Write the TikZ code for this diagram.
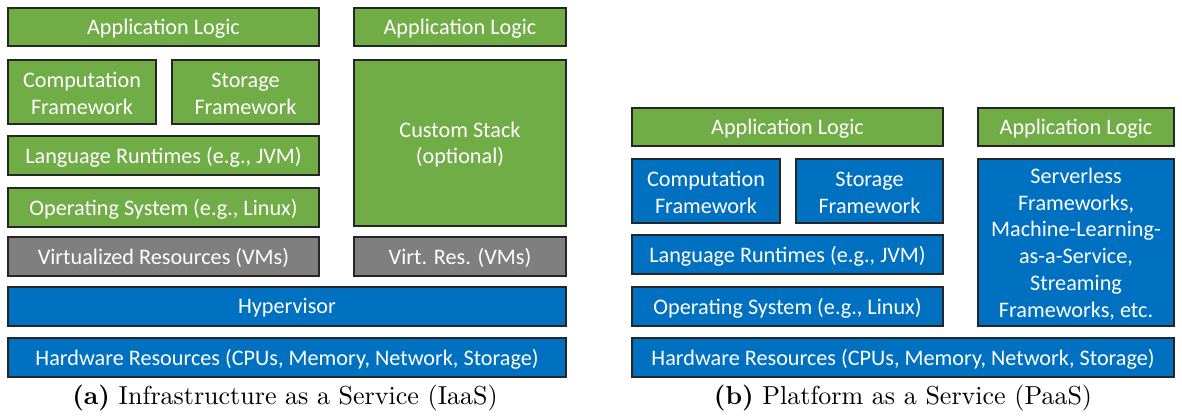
\documentclass[tikz,border=0pt]{standalone}
\usepackage{fontspec}
\newfontfamily\boxfont{Carlito}
\newfontfamily\capfont[BoldFont=lmroman10-bold.otf]{lmroman10-regular.otf}
\definecolor{lgreen}{HTML}{70AD47}
\definecolor{lblue}{HTML}{0070C0}
\definecolor{lgray}{HTML}{7F7F7F}
\begin{document}
\begin{tikzpicture}[x=1pt,y=-1pt,
  lbl/.style={text=white, font=\boxfont\fontsize{22.2}{26.8}\selectfont,
    align=center, inner sep=0pt, yshift=-1.6pt},
  layer/.style={draw=black!85, line width=1.2pt,
    anchor=north west, inner sep=0pt, outer sep=0pt,
    label={[lbl]center:{#1}}},
  gbox/.style={layer={#1}, fill=lgreen},
  bbox/.style={layer={#1}, fill=lblue},
  ybox/.style={layer={#1}, fill=lgray},
  captext/.style={font=\capfont\fontsize{26}{30}\selectfont}]
\useasboundingbox (0,0) rectangle (1182,418);
% (a) IaaS
\node[gbox={Application Logic}, minimum width=311pt, minimum height=38pt] (aapp) at (8,8) {};
\node[gbox={Application Logic}, minimum width=212pt, minimum height=38pt] (aappr) at (354,8) {};
\node[gbox={Computation\\Framework}, minimum width=148pt, minimum height=64pt] (acomp) at (8,60) {};
\node[gbox={Storage\\Framework}, minimum width=147pt, minimum height=64pt] (astor) at (172,60) {};
\node[gbox={Custom Stack\\(optional)}, minimum width=212pt, minimum height=166pt] (acust) at (354,60) {};
\node[gbox={Language Runtimes (e.g., JVM)}, minimum width=311pt, minimum height=39pt] (alang) at (8,136) {};
\node[gbox={Operating System (e.g., Linux)}, minimum width=311pt, minimum height=39pt] (aos) at (8,188) {};
\node[ybox={Virtualized Resources (VMs)}, minimum width=311pt, minimum height=39pt] (avirt) at (8,237) {};
\node[ybox={Virt. Res. (VMs)}, minimum width=212pt, minimum height=39pt] (avirtr) at (354,237) {};
\node[bbox={Hypervisor}, minimum width=558pt, minimum height=39pt] (ahyp) at (8,287) {};
\node[bbox={Hardware Resources (CPUs, Memory, Network, Storage)}, minimum width=558pt, minimum height=39pt] (ahw) at (8,338) {};
\node[captext] (capa) at (285,398) {\textbf{(a)} Infrastructure as a Service (IaaS)};
% (b) PaaS
\node[gbox={Application Logic}, minimum width=311pt, minimum height=38pt] (bapp) at (632,108) {};
\node[gbox={Application Logic}, minimum width=196pt, minimum height=38pt] (bappr) at (978,108) {};
\node[bbox={Computation\\Framework}, minimum width=148pt, minimum height=64pt] (bcomp) at (632,159) {};
\node[bbox={Storage\\Framework}, minimum width=147pt, minimum height=64pt] (bstor) at (796,159) {};
\node[bbox={Serverless\\Frameworks,\\Machine-Learning-\\as-a-Service,\\Streaming\\Frameworks, etc.}, minimum width=196pt, minimum height=167pt] (bserv) at (978,159) {};
\node[bbox={Language Runtimes (e.g., JVM)}, minimum width=311pt, minimum height=39pt] (blang) at (632,235) {};
\node[bbox={Operating System (e.g., Linux)}, minimum width=311pt, minimum height=39pt] (bos) at (632,287) {};
\node[bbox={Hardware Resources (CPUs, Memory, Network, Storage)}, minimum width=542pt, minimum height=39pt] (bhw) at (632,338) {};
\node[captext] (capb) at (903,398) {\textbf{(b)} Platform as a Service (PaaS)};
\end{tikzpicture}
\end{document}
